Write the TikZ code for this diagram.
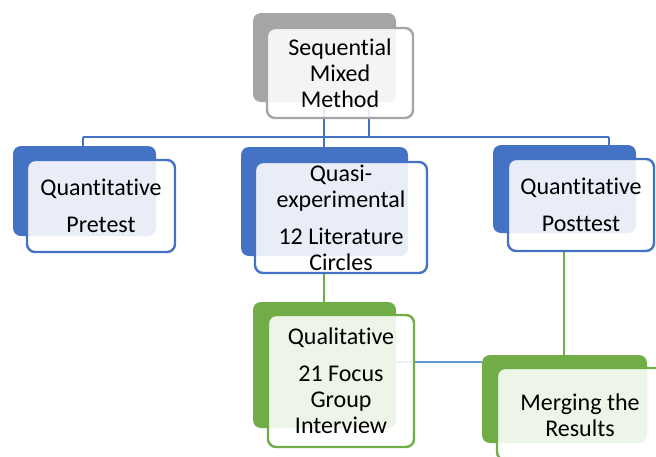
\documentclass[tikz,border=0pt]{standalone}
\usepackage{fontspec}
\setmainfont[RawFeature=-liga]{Carlito}
\definecolor{cblue}{HTML}{4472C4}
\definecolor{cgreen}{HTML}{70AD47}
\definecolor{cgray}{HTML}{A5A5A5}
\definecolor{clblue}{HTML}{5B9BD5}
\pgfdeclarelayer{bg}
\pgfdeclarelayer{mid}
\pgfsetlayers{bg,mid,main}
\tikzset{
  backbox/.style={rectangle, rounded corners=8pt, inner sep=0pt, draw=none},
  frontbox/.style={rectangle, rounded corners=8pt, inner sep=0pt, line width=2.4pt,
    fill=white, fill opacity=0.88, text opacity=1, align=center,
    font=\fontsize{24}{26}\selectfont},
  conn/.style={line width=2.4pt},
}
\begin{document}
\begin{tikzpicture}[x=1pt,y=-1pt]
\useasboundingbox (0,0) rectangle (656,456);
\clip (0,0) rectangle (656,456);
% front boxes
\node[frontbox, draw=cgray, minimum width=146pt, minimum height=90pt] (tf) at (340,73) {Sequential\\Mixed\\Method};
\node[frontbox, draw=cblue, minimum width=148pt, minimum height=92pt] (lf) at (101,206) {Quantitative\\[11pt]Pretest};
\node[frontbox, draw=cblue, minimum width=172pt, minimum height=111pt] (mf) at (341,217.5) {Quasi-\\experimental\\[11pt]12 Literature\\Circles};
\node[frontbox, draw=cblue, minimum width=146pt, minimum height=92pt] (rf) at (581,205) {Quantitative\\[11pt]Posttest};
\node[frontbox, draw=cgreen, minimum width=146pt, minimum height=132pt] (gf) at (341,381) {Qualitative\\[11pt]21 Focus\\Group\\Interview};
\node[frontbox, draw=cgreen, minimum width=167pt, minimum height=92pt] (ef) at (580.5,414) {};
\node[font=\fontsize{24}{26}\selectfont, align=center, inner sep=0pt] (et) at (580,415) {Merging the\\Results};
\begin{pgfonlayer}{bg}
\node[backbox, fill=cgray, minimum width=143pt, minimum height=89pt] (tb) at (324.5,57.5) {};
\node[backbox, fill=cblue, minimum width=143pt, minimum height=90pt] (lb) at (84.5,191) {};
\node[backbox, fill=cblue, minimum width=167pt, minimum height=109pt] (mb) at (324.5,201.5) {};
\node[backbox, fill=cblue, minimum width=143pt, minimum height=88pt] (rb) at (564.5,189) {};
\node[backbox, fill=cgreen, minimum width=143pt, minimum height=126pt] (gb) at (324.5,365) {};
\node[backbox, fill=cgreen, minimum width=165pt, minimum height=88pt] (eb) at (564.5,399) {};
\end{pgfonlayer}
\begin{pgfonlayer}{mid}
\coordinate (hl) at (83,137);
\coordinate (hr) at (609,137);
\draw[conn, cblue] (hl) -- (hr);
\draw[conn, cblue] (hl) -- (hl |- lb.north);
\draw[conn, cblue] (hr) -- (hr |- rb.north);
\draw[conn, cblue] (324,0 |- tb.south) -- (324,0 |- mb.north);
\draw[conn, cblue] (369,0 |- tb.south) -- (369,137);
\draw[conn, cgreen] (324,0 |- mf.south) -- (324,0 |- gb.north);
\draw[conn, cgreen] (564,0 |- rf.south) -- (564,0 |- eb.north);
\draw[conn, clblue] (gb.east |- 0,362) -- (eb.west |- 0,362);
\end{pgfonlayer}
\end{tikzpicture}
\end{document}
